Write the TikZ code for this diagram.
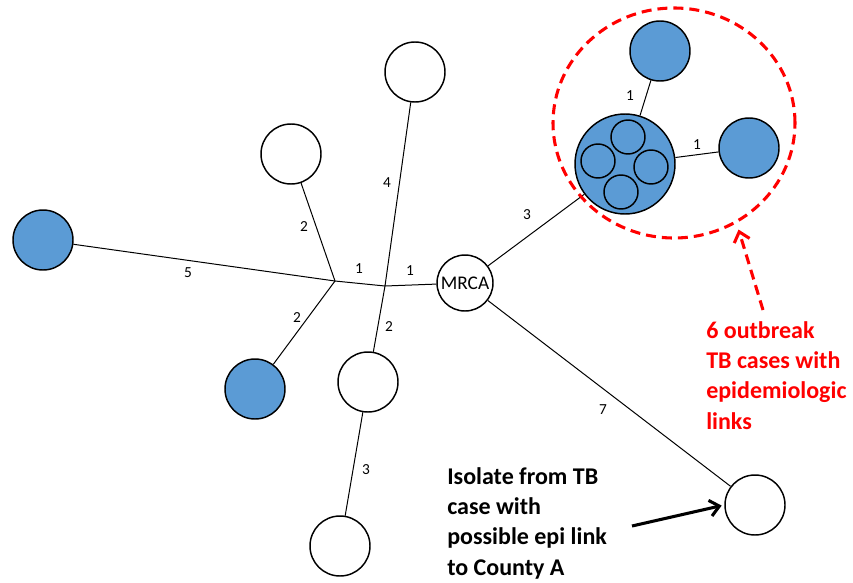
\documentclass[tikz,border=0pt]{standalone}
\usepackage{fontspec}
\setmainfont{Carlito}
\usetikzlibrary{shapes.geometric,arrows.meta}
\definecolor{caseblue}{HTML}{5B9BD5}
\definecolor{linkred}{HTML}{FF0000}
\begin{document}
\begin{tikzpicture}[x=0.75pt,y=-0.75pt,
  isolate/.style={circle,draw=black,line width=1.1pt,minimum size=45pt,inner sep=0pt},
  linked/.style={isolate,fill=caseblue},
  subcase/.style={circle,draw=black,line width=1.1pt,minimum size=25.5pt,inner sep=0pt,fill=caseblue},
  branch/.style={draw=black,line width=0.75pt},
  dist/.style={font=\fontsize{11.5}{13}\selectfont,inner sep=0pt},
  note/.style={font=\fontsize{18}{22.8}\bfseries,align=left,inner sep=0pt,anchor=north west}]
\useasboundingbox (0,0) rectangle (853,582);

% internal branching points
\coordinate (j1) at (335,281);
\coordinate (j2) at (385,286);

% isolates
\node[linked]  (bl)  at (43,240) {};
\node[isolate] (wtl) at (291,154) {};
\node[linked]  (bbl) at (255,389) {};
\node[isolate] (wt)  at (415,72) {};
\node[isolate] (wm)  at (368,382) {};
\node[isolate] (wb)  at (340,546) {};
\node[isolate] (wbr) at (755,505) {};
\node[circle,draw=black,line width=1.1pt,minimum size=42pt,inner sep=0pt,
      font=\fontsize{14.5}{16}\selectfont] (mrca) at (465,283) {MRCA};

% cluster of identical isolates
\node[circle,draw=black,line width=1.1pt,minimum size=75pt,inner sep=0pt,fill=caseblue] (clu) at (625,164) {};
\node[subcase] (c1) at (628,137) {};
\node[subcase] (c2) at (598,161) {};
\node[subcase] (c3) at (651,167) {};
\node[subcase] (c4) at (621,192) {};
\node[linked] (ct) at (660,51) {};
\node[linked] (cr) at (749,148) {};

% branches
\draw[branch] (bl) -- (j1);
\draw[branch] (wtl) -- (j1);
\draw[branch] (bbl) -- (j1);
\draw[branch] (j1) -- (j2);
\draw[branch] (j2) -- (wt);
\draw[branch] (j2) -- (wm);
\draw[branch] (j2) -- (mrca);
\draw[branch] (wm) -- (wb);
\draw[branch] (mrca) -- (clu);
\draw[branch] (mrca) -- (wbr);
\draw[branch] (clu) -- (ct);
\draw[branch] (clu) -- (cr);

% SNP distances
\node[dist] (d1) at (188,273) {5};
\node[dist] (d2) at (304,227) {2};
\node[dist] (d3) at (297,318) {2};
\node[dist] (d4) at (359,269) {1};
\node[dist] (d5) at (410,271) {1};
\node[dist] (d6) at (387,183) {4};
\node[dist] (d7) at (389,327) {2};
\node[dist] (d8) at (366,470) {3};
\node[dist] (d9) at (527,215) {3};
\node[dist] (d10) at (603,410) {7};
\node[dist] (d11) at (630,96) {1};
\node[dist] (d12) at (697,145) {1};

% outbreak grouping
\node[ellipse,draw=linkred,line width=2.3pt,dash pattern=on 7.5pt off 4.5pt,
      minimum width=181.5pt,minimum height=172.5pt,inner sep=0pt] (grp) at (674,123) {};
\coordinate (rtail) at (763,310);
\draw[linkred,line width=2.3pt,dash pattern=on 7.5pt off 4.5pt,
      -{Straight Barb[length=7pt,width=12pt,line width=2.3pt]},shorten >=5pt] (rtail) -- (grp.-58);
\node[note,text=linkred] (rtext) at (706,321) {6 outbreak\\TB cases with\\epidemiologic\\links};

% annotation for the distant isolate
\node[note] (btext) at (447,467) {Isolate from TB\\case with\\possible epi link\\to County A};
\coordinate (btail) at (632,526);
\draw[line width=2.3pt,-{Straight Barb[length=7pt,width=12pt,line width=2.3pt]},shorten >=2pt] (btail) -- (wbr.west);
\end{tikzpicture}
\end{document}
